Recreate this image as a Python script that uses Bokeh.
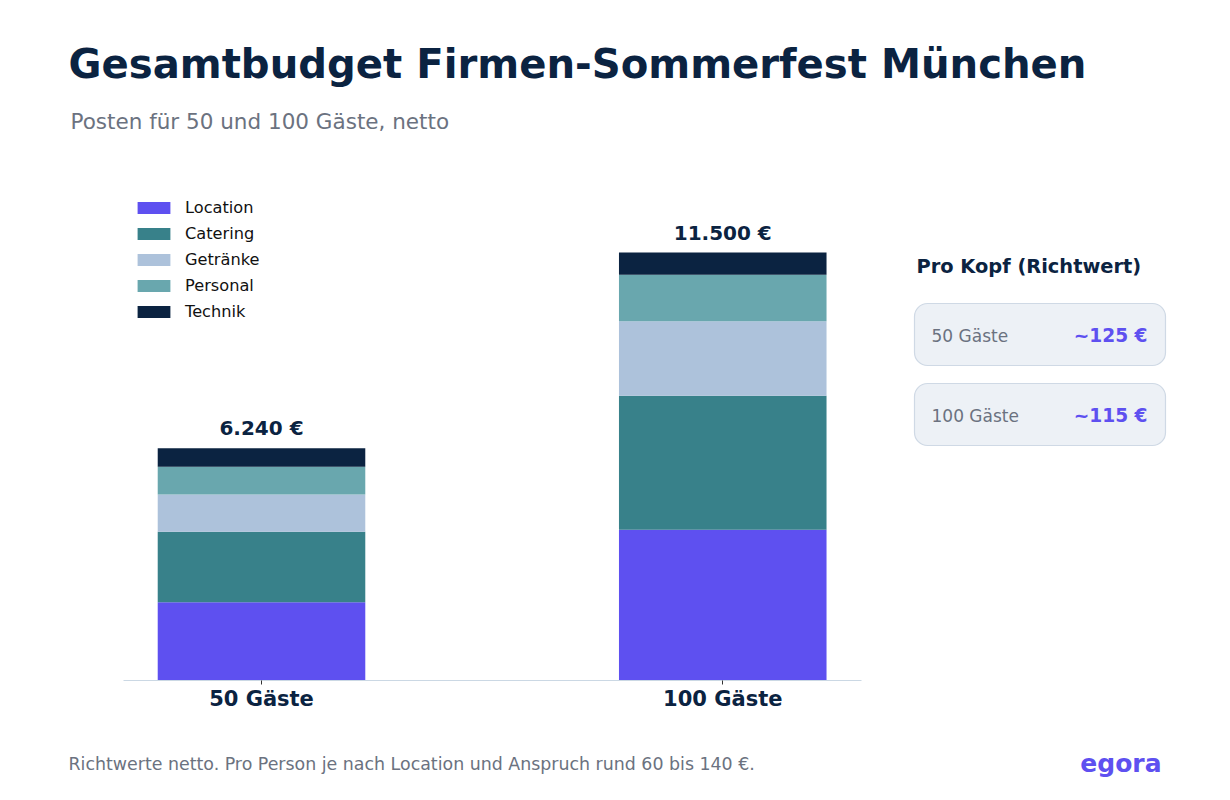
from bokeh.plotting import figure
from bokeh.layouts import column
from bokeh.models import ColumnDataSource, Range1d, FixedTicker, Label, Legend, LegendItem
from bokeh.core.properties import value
from bokeh.embed import file_html
from bokeh.resources import INLINE

# ---------------- data ----------------
categories = ["50 Gäste", "100 Gäste"]
series_names = ["Location", "Catering", "Getränke", "Personal", "Technik"]
location = [2100, 4050]
catering = [1900, 3600]
getraenke = [1000, 2000]
personal = [740, 1250]
technik = [500, 600]
per_head = [125, 115]

title_text = "Gesamtbudget Firmen-Sommerfest München"
subtitle_text = "Posten für 50 und 100 Gäste, netto"
panel_title = "Pro Kopf (Richtwert)"
footer_text = "Richtwerte netto. Pro Person je nach Location und Anspruch rund 60 bis 140 €."
brand_text = "egora"

# ---------------- style ----------------
NAVY = "#0b2341"
GRAY = "#6b7280"
PURPLE = "#5e50f0"
colors = ["#5e50f0", "#38818a", "#adc2db", "#69a7ae", "#0b2341"]
FONT = value("DejaVu Sans")

W, H = 1230, 800
MAIN_H = 720
FRAME_BOTTOM = 680
PX_PER_UNIT = 461.25
X0_PX = 261.0
PX_PER_EUR = 428.0 / 11500.0

x_start = -X0_PX / PX_PER_UNIT
x_end = x_start + W / PX_PER_UNIT
y_end = FRAME_BOTTOM / PX_PER_EUR


def X(px):
    return x_start + px / PX_PER_UNIT


def Y(py):
    return (FRAME_BOTTOM - py) / PX_PER_EUR


p = figure(width=W, height=MAIN_H, x_range=Range1d(x_start, x_end), y_range=Range1d(0, y_end),
           output_backend="svg", toolbar_location=None, y_axis_location=None,
           min_border_left=0, min_border_right=0, min_border_top=0,
           min_border_bottom=MAIN_H - FRAME_BOTTOM)
p.grid.visible = False
p.outline_line_color = None
p.background_fill_color = "white"
p.border_fill_color = "white"

xs = list(range(len(categories)))
src = ColumnDataSource(dict(x=xs, Location=location, Catering=catering, Getraenke=getraenke,
                            Personal=personal, Technik=technik))
cols = ["Location", "Catering", "Getraenke", "Personal", "Technik"]
renderers = p.vbar_stack(cols, x="x", width=0.45, color=colors, line_color=None, source=src)

totals = [a + b + c + d + e for a, b, c, d, e in zip(location, catering, getraenke, personal, technik)]
total_labels = [f"{t:,}".replace(",", ".") + " €" for t in totals]
p.text(x=xs, y=totals, text=total_labels, text_align="center", text_baseline="bottom", y_offset=-8,
       text_font=FONT, text_font_style="bold", text_font_size="20px", text_color=NAVY)

# axis
ax = p.xaxis[0]
ax.ticker = FixedTicker(ticks=xs)
ax.major_label_overrides = {i: c for i, c in zip(xs, categories)}
ax.bounds = (X(123), X(861))
ax.axis_line_color = "#cbd8e4"
ax.axis_line_width = 1
ax.major_tick_line_color = "#333333"
ax.major_tick_in = 0
ax.major_tick_out = 4
ax.minor_tick_line_color = None
ax.major_label_text_font = "DejaVu Sans"
ax.major_label_text_font_style = "bold"
ax.major_label_text_font_size = "21px"
ax.major_label_text_color = NAVY
ax.major_label_standoff = 2

# legend
items = [LegendItem(label=n, renderers=[r]) for n, r in zip(series_names, renderers)]
legend = Legend(items=items, location=(133, 359), glyph_width=41, glyph_height=15,
                label_standoff=11, spacing=7, padding=10, border_line_color=None,
                background_fill_alpha=0, label_text_font="DejaVu Sans",
                label_text_font_size="16.2px", label_text_color="#111111")
p.add_layout(legend)

# titles
p.add_layout(Label(x=X(68), y=Y(63), text=title_text, text_baseline="middle", text_font="DejaVu Sans",
                   text_font_style="bold", text_font_size="40.2px", text_color=NAVY))
p.add_layout(Label(x=X(70), y=Y(121), text=subtitle_text, text_baseline="middle", text_font="DejaVu Sans",
                   text_font_size="21.5px", text_color=GRAY))

# side panel
p.add_layout(Label(x=X(916), y=Y(266), text=panel_title, text_baseline="middle", text_font="DejaVu Sans",
                   text_font_style="bold", text_font_size="19.4px", text_color=NAVY))
box_tops = [303, 383]
p.quad(left=[X(914)] * 2, right=[X(1165)] * 2, top=[Y(t) for t in box_tops], bottom=[Y(t + 62) for t in box_tops],
       fill_color="#edf1f6", line_color="#cfd9e5", line_width=1.2, border_radius=13)
for t, cat, v in zip(box_tops, categories, per_head):
    p.add_layout(Label(x=X(931), y=Y(t + 32), text=cat, text_baseline="middle", text_font="DejaVu Sans",
                       text_font_size="17px", text_color=GRAY))
    p.add_layout(Label(x=X(1147), y=Y(t + 32), text=f"~{v} €", text_align="right", text_baseline="middle",
                       text_font="DejaVu Sans", text_font_style="bold", text_font_size="18.6px", text_color=PURPLE))

# footer strip (pixel-like ranges)
f = figure(width=W, height=H - MAIN_H, x_range=Range1d(0, W), y_range=Range1d(H, MAIN_H),
           output_backend="svg", toolbar_location=None, x_axis_location=None, y_axis_location=None,
           min_border_left=0, min_border_right=0, min_border_top=0, min_border_bottom=0)
f.grid.visible = False
f.outline_line_color = None
f.background_fill_color = "white"
f.border_fill_color = "white"
f.text(x=[68], y=[763], text=[footer_text], text_baseline="middle", text_font=FONT,
       text_font_size="17.4px", text_color=GRAY)
f.text(x=[1161], y=[763], text=[brand_text], text_align="right", text_baseline="middle", text_font=FONT,
       text_font_style="bold", text_font_size="25px", text_color=PURPLE)

layout = column(p, f, spacing=0)
open("out.html", "w").write(file_html(layout, INLINE))
